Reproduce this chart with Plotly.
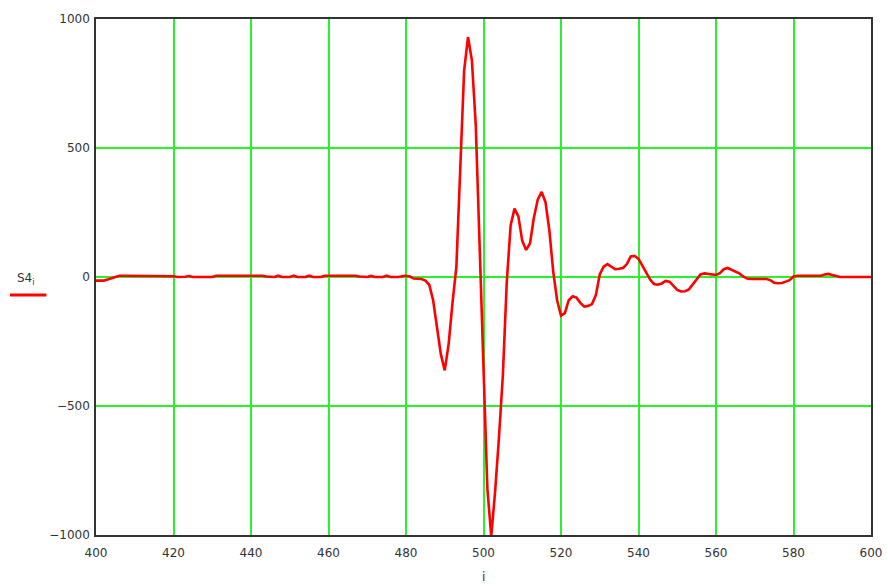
import plotly.graph_objects as go

# index i (integer samples)
i_start = 400
i_end = 600
i_values = list(range(i_start, i_end + 1))

# S4_i values (one per integer i, 400..600)
s4_400_439 = [
    -14, -14, -14, -10, -4, 0, 5, 5, 5, 5,
    5, 5, 5, 5, 5, 5, 5, 5, 5, 5,
    3, 0, 0, 1, 4, 0, 0, 0, 0, 0,
    0, 5, 5, 5, 5, 5, 5, 5, 5, 5,
]
s4_440_479 = [
    5, 5, 5, 5, 2, 0, 0, 5, 0, 0,
    0, 5, 0, 0, 0, 5, 0, 0, 0, 5,
    5, 5, 5, 5, 5, 5, 5, 5, 2, 0,
    0, 4, 0, 0, 0, 5, 0, 0, 0, 3,
]
s4_480_519 = [
    5, 2, -6, -7, -8, -14, -30, -90, -190, -300,
    -362, -260, -100, 40, 420, 800, 930, 840, 590, 120,
    -400, -820, -1005, -830, -620, -380, -20, 200, 265, 235,
    140, 105, 130, 230, 300, 330, 290, 180, 20, -90,
]
s4_520_559 = [
    -150, -140, -90, -75, -80, -100, -115, -112, -105, -70,
    10, 40, 50, 40, 30, 32, 35, 50, 80, 82,
    70, 44, 15, -10, -27, -30, -25, -15, -18, -35,
    -50, -56, -55, -48, -30, -8, 10, 14, 12, 10,
]
s4_560_600 = [
    8, 15, 30, 35, 27, 20, 14, 2, -6, -8,
    -8, -8, -8, -8, -12, -22, -24, -23, -18, -12,
    2, 5, 5, 5, 5, 5, 5, 5, 10, 12,
    8, 3, 0, 0, 0, 0, 0, 0, 0, 0,
    0,
]
s4_values = s4_400_439 + s4_440_479 + s4_480_519 + s4_520_559 + s4_560_600

x_ticks = [400, 420, 440, 460, 480, 500, 520, 540, 560, 580, 600]
y_ticks = [-1000, -500, 0, 500, 1000]
y_tick_labels = ["\u22121000", "\u2212500", "0", "500", "1000"]
series_name = "S4<sub>i</sub>"
x_title = "i"

RED = "#ff0000"
GREEN = "#2af22a"
AXIS_FONT = dict(family="DejaVu Sans", size=12, color="#333333")

fig = go.Figure()
fig.add_trace(go.Scatter(
    x=i_values, y=s4_values, mode="lines",
    line=dict(color=RED, width=2.6), name="S4", showlegend=False,
    cliponaxis=True,
))

fig.update_layout(
    width=888, height=587,
    margin=dict(l=96, r=17, t=19, b=52, autoexpand=False),
    paper_bgcolor="white", plot_bgcolor="white",
    showlegend=False,
)
fig.update_xaxes(
    range=[i_start, i_end], tickvals=x_ticks, automargin=False,
    showgrid=True, gridcolor=GREEN, gridwidth=1.5,
    zeroline=False, showline=True, linecolor="#333333", linewidth=1.5, mirror=True,
    ticks="", tickfont=AXIS_FONT, ticklabelstandoff=6,
)
fig.update_yaxes(
    range=[-1000, 1000], tickvals=y_ticks, ticktext=y_tick_labels, automargin=False,
    showgrid=True, gridcolor=GREEN, gridwidth=1.5,
    zeroline=False, showline=True, linecolor="#333333", linewidth=1.5, mirror=True,
    ticks="", tickfont=AXIS_FONT, ticklabelstandoff=2,
)

# x-axis title
fig.add_annotation(
    text=x_title, xref="paper", yref="paper", x=0.5, y=-0.081,
    showarrow=False, font=AXIS_FONT, xanchor="center", yanchor="middle",
)
# y-axis label with legend line beneath it
fig.add_annotation(
    text=series_name, xref="paper", yref="paper", x=-0.09, y=0.497,
    showarrow=False, font=AXIS_FONT, xanchor="center", yanchor="middle",
)
fig.add_shape(
    type="line", xref="paper", yref="paper",
    x0=-0.111, x1=-0.064, y0=0.465, y1=0.465,
    line=dict(color=RED, width=3),
)

# remove the default page margin so the 888x587 figure fills the window exactly
fig.write_html(
    "out.html",
    config={"displayModeBar": False},
    post_script="document.body.style.margin='0px';document.body.style.overflow='hidden';",
)
